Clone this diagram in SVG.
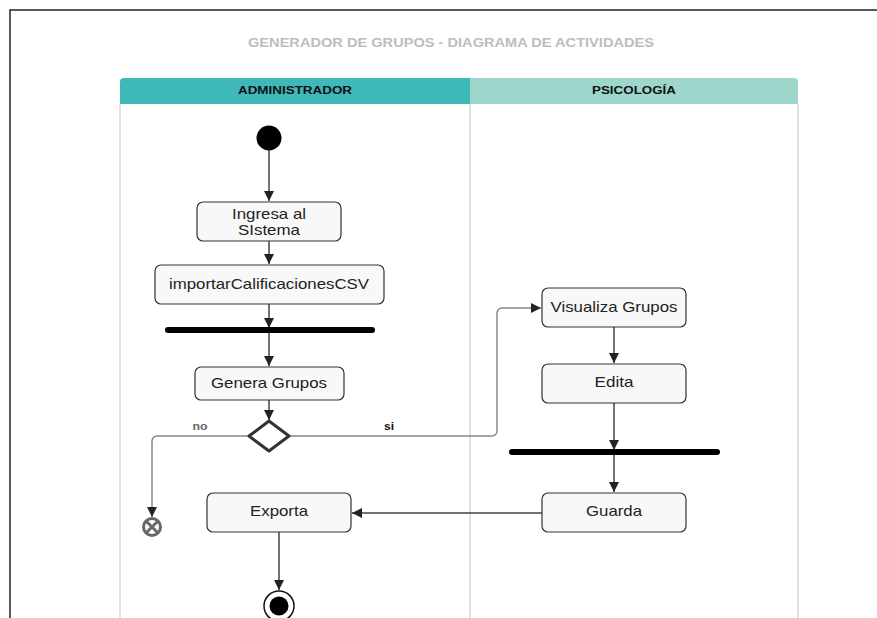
<svg xmlns="http://www.w3.org/2000/svg" width="877" height="618" viewBox="0 0 877 618">
<defs>
<style>
.box{fill:#f8f8f8;stroke:#333;stroke-width:1.2}
.lbl{font-family:"Liberation Sans",Arial,sans-serif;font-size:15px;fill:#222;text-anchor:middle}
.hdr{font-family:"Liberation Sans",Arial,sans-serif;font-size:11px;font-weight:bold;fill:#111;text-anchor:middle}
.cn{fill:none;stroke:#444;stroke-width:1.5}
.cg{fill:none;stroke:#888;stroke-width:1.5}
.lane{stroke:#e2e2e2;stroke-width:2}
.bar{stroke:#000;stroke-width:6;stroke-linecap:round}
.small{font-family:"Liberation Sans",Arial,sans-serif;font-size:11px;font-weight:bold;text-anchor:middle}
</style>
<marker id="ah" viewBox="0 0 10 10" refX="10" refY="5" markerWidth="10" markerHeight="10" markerUnits="userSpaceOnUse" orient="auto"><path d="M0,0 L10,5 L0,10 z" fill="#222"/></marker>
</defs>
<rect x="0" y="0" width="877" height="618" fill="#fff"/>
<path d="M10,618 V10 H877" fill="none" stroke="#222" stroke-width="1.5"/>
<text x="451" y="47" font-family="Liberation Sans,Arial,sans-serif" font-size="12" font-weight="bold" fill="#bdbdbd" text-anchor="middle" textLength="406" lengthAdjust="spacingAndGlyphs">GENERADOR DE GRUPOS - DIAGRAMA DE ACTIVIDADES</text>
<g id="lanes">
<line class="lane" x1="120" y1="104" x2="120" y2="618"/>
<line class="lane" x1="470" y1="104" x2="470" y2="618"/>
<line class="lane" x1="798" y1="104" x2="798" y2="618"/>
<g id="lane-admin"><path d="M120,104 V82 a4,4 0 0 1 4,-4 H470 V104 z" fill="#3fb8b9"/><text class="hdr" x="295" y="94" textLength="114" lengthAdjust="spacingAndGlyphs">ADMINISTRADOR</text></g>
<g id="lane-psico"><path d="M470,104 V78 H794 a4,4 0 0 1 4,4 V104 z" fill="#9dd7cb"/><text class="hdr" x="634" y="94" textLength="84" lengthAdjust="spacingAndGlyphs">PSICOLOGÍA</text></g>
</g>
<g id="connectors">
<line class="cn" x1="269" y1="150" x2="269" y2="201" stroke="#111" marker-end="url(#ah)"/>
<line class="cn" x1="269" y1="241" x2="269" y2="264" marker-end="url(#ah)"/>
<line class="cn" x1="269" y1="304" x2="269" y2="328" marker-end="url(#ah)"/>
<line class="cn" x1="269" y1="330" x2="269" y2="366" marker-end="url(#ah)"/>
<line class="cn" x1="269" y1="400" x2="269" y2="420" marker-end="url(#ah)"/>
<path class="cg" d="M249,436 H157 a5,5 0 0 0 -5,5 V517" marker-end="url(#ah)"/>
<path class="cg" d="M289,436 H492 a5,5 0 0 0 5,-5 V313 a5,5 0 0 1 5,-5 H541" marker-end="url(#ah)"/>
<line class="cn" x1="614" y1="327" x2="614" y2="363" marker-end="url(#ah)"/>
<line class="cn" x1="614" y1="403" x2="614" y2="450" marker-end="url(#ah)"/>
<line class="cn" x1="614" y1="452" x2="614" y2="492" marker-end="url(#ah)"/>
<line class="cn" x1="542" y1="513" x2="352" y2="513" stroke="#222" marker-end="url(#ah)"/>
<line class="cn" x1="279" y1="532" x2="279" y2="590" stroke="#111" marker-end="url(#ah)"/>
<text class="small" x="200" y="430" fill="#666" textLength="15" lengthAdjust="spacingAndGlyphs">no</text>
<text class="small" x="389" y="430" fill="#111" textLength="10" lengthAdjust="spacingAndGlyphs">si</text>
</g>
<g id="start"><circle cx="269" cy="138" r="12.5" fill="#000"/></g>
<g id="ingresa"><rect class="box" x="197" y="202" width="144" height="39" rx="6"/><text class="lbl" x="269" y="219" textLength="74" lengthAdjust="spacingAndGlyphs">Ingresa al</text><text class="lbl" x="269" y="235" textLength="62" lengthAdjust="spacingAndGlyphs">SIstema</text></g>
<g id="importar"><rect class="box" x="155" y="265" width="229" height="39" rx="6"/><text class="lbl" x="269" y="289" textLength="200" lengthAdjust="spacingAndGlyphs">importarCalificacionesCSV</text></g>
<g id="fork1"><line class="bar" x1="168" y1="330" x2="372" y2="330"/></g>
<g id="genera"><rect class="box" x="195" y="367" width="149" height="33" rx="6"/><text class="lbl" x="269" y="388" textLength="116" lengthAdjust="spacingAndGlyphs">Genera Grupos</text></g>
<g id="decision"><path d="M269,421 L289,436 L269,451 L249,436 z" fill="#fff" stroke="#333" stroke-width="3" stroke-linejoin="round"/></g>
<g id="flowfinal"><circle cx="152" cy="527" r="8.5" fill="#fff" stroke="#666" stroke-width="3"/><path d="M146.5,521.5 L157.5,532.5 M157.5,521.5 L146.5,532.5" stroke="#666" stroke-width="3"/></g>
<g id="visualiza"><rect class="box" x="542" y="288" width="144" height="39" rx="6"/><text class="lbl" x="614" y="312" textLength="127" lengthAdjust="spacingAndGlyphs">Visualiza Grupos</text></g>
<g id="edita"><rect class="box" x="542" y="364" width="144" height="39" rx="6"/><text class="lbl" x="614" y="387" textLength="39" lengthAdjust="spacingAndGlyphs">Edita</text></g>
<g id="fork2"><line class="bar" x1="512" y1="452" x2="717" y2="452"/></g>
<g id="guarda"><rect class="box" x="542" y="493" width="144" height="39" rx="6"/><text class="lbl" x="614" y="516" textLength="56" lengthAdjust="spacingAndGlyphs">Guarda</text></g>
<g id="exporta"><rect class="box" x="207" y="493" width="144" height="39" rx="6"/><text class="lbl" x="279" y="516" textLength="58" lengthAdjust="spacingAndGlyphs">Exporta</text></g>
<g id="end"><circle cx="279" cy="606" r="15" fill="#fff" stroke="#111" stroke-width="1.5"/><circle cx="279" cy="606" r="9.5" fill="#000"/></g>
</svg>
